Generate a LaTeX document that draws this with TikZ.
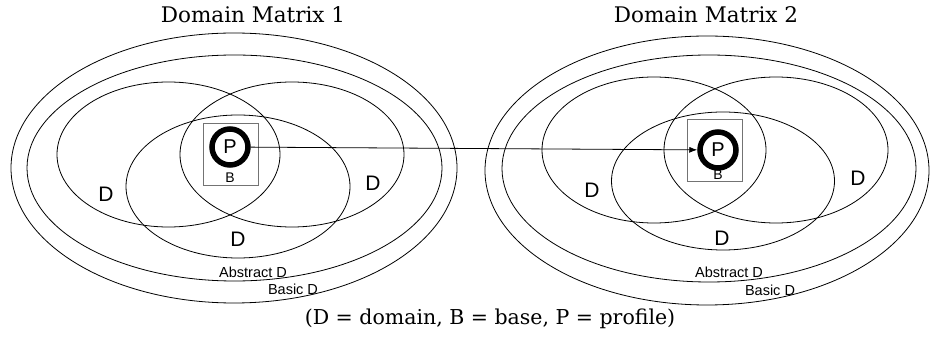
\documentclass[tikz,border=0pt]{standalone}
\usepackage{fontspec}
\newfontfamily\arial{Liberation Sans}
\newfontfamily\schoolserif{DejaVu Serif}
\usetikzlibrary{arrows.meta}
\begin{document}
\begin{tikzpicture}[x=1pt,y=-1pt,
  ell/.style={draw=black, line width=0.8pt},
  basebox/.style={draw=black!55, line width=0.7pt, minimum width=55pt, minimum height=62pt, inner sep=0pt},
  pnode/.style={circle, draw=black, line width=5.5pt, minimum size=36pt, inner sep=0pt, font=\arial\fontsize{20}{20}\selectfont},
  blabel/.style={inner sep=0pt, font=\arial\fontsize{14}{14}\selectfont},
  dlabel/.style={inner sep=0pt, font=\arial\fontsize{21}{21}\selectfont},
  smalllabel/.style={inner sep=0pt, font=\arial\fontsize{14.5}{15}\selectfont},
  title/.style={inner sep=0pt, font=\schoolserif\fontsize{21.5}{24}\selectfont},
  legend/.style={inner sep=0pt, font=\schoolserif\fontsize{20.5}{24}\selectfont},
  link/.style={line width=0.8pt, -{Latex[length=8pt,width=6pt]}}
]
\useasboundingbox (0,0) rectangle (934,344);

% ---- Domain Matrix 1 ----
\draw[ell] (234,168) ellipse [x radius=223, y radius=135];
\draw[ell] (234.5,168) ellipse [x radius=207.5, y radius=113];
\draw[ell] (168.5,154.5) ellipse [x radius=111.5, y radius=72.5];
\draw[ell] (292,154.5) ellipse [x radius=112, y radius=72.5];
\draw[ell] (238,186.5) ellipse [x radius=112, y radius=71.5];

% ---- Domain Matrix 2 ----
\draw[ell] (707,170.5) ellipse [x radius=222, y radius=134.5];
\draw[ell] (709,168.5) ellipse [x radius=207, y radius=113.5];
\draw[ell] (654,150) ellipse [x radius=112, y radius=73];
\draw[ell] (776,150) ellipse [x radius=112, y radius=73];
\draw[ell] (723,181) ellipse [x radius=111.5, y radius=69];

% base boxes
\node[basebox] (box1) at (230.5,154) {};
\node[basebox] (box2) at (715,150.5) {};

% profiles
\node[pnode] (P1) at (230,147) {P};
\node[pnode] (P2) at (718,150) {P};
\node[blabel] (B1) at (230,178) {B};
\node[blabel] (B2) at (718,175) {B};

% arrow
\draw[link] (P1) -- (P2);

% D labels
\node[dlabel] (d11) at (106,194) {D};
\node[dlabel] (d12) at (373,183) {D};
\node[dlabel] (d13) at (238,239) {D};
\node[dlabel] (d21) at (592,190) {D};
\node[dlabel] (d22) at (858,178) {D};
\node[dlabel] (d23) at (722,238) {D};

\node[smalllabel] (abs1) at (253,272) {Abstract D};
\node[smalllabel] (bas1) at (293,289) {Basic D};
\node[smalllabel] (abs2) at (729,272) {Abstract D};
\node[smalllabel] (bas2) at (770,290) {Basic D};

% titles and legend
\node[title] (t1) at (253,15) {Domain Matrix 1};
\node[title] (t2) at (706,15) {Domain Matrix 2};
\node[legend] (leg) at (490,319) {(D = domain, B = base, P = profile)};
\end{tikzpicture}
\end{document}
